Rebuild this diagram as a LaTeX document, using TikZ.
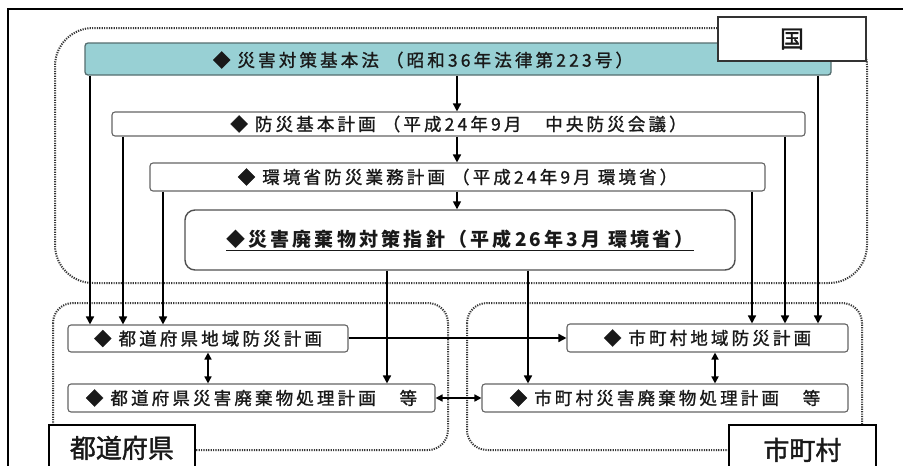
\documentclass[tikz,border=0pt]{standalone}
\usepackage{fontspec}
\setmainfont{Noto Sans CJK JP}
\newfontfamily\jp[LetterSpace=18,FakeBold=1.2]{Noto Sans CJK JP}
\newfontfamily\jpwide[LetterSpace=17]{Noto Sans CJK JP}
\newfontfamily\jplab[FakeBold=1.5]{Noto Sans CJK JP}
\usetikzlibrary{arrows.meta}
\definecolor{regcol}{RGB}{55,55,55}
\definecolor{boxcol}{RGB}{100,100,100}
\definecolor{txt}{RGB}{25,25,25}
\definecolor{tealfill}{RGB}{152,208,212}
\definecolor{tealedge}{RGB}{85,110,112}
\begin{document}
\begin{tikzpicture}[x=1pt,y=-1pt,
  region/.style={draw=regcol, line width=2pt, dash pattern=on 1.2pt off 1.2pt},
  plan/.style={draw=boxcol, line width=1.1pt, fill=white, rounded corners=3pt, inner sep=0pt, text=txt, font=\jp\fontsize{17.5}{19}\selectfont},
  arr/.style={line width=1.6pt, draw=black, -{Triangle[length=8pt,width=8pt]}},
  darr/.style={line width=1.6pt, draw=black, {Triangle[length=7pt,width=7pt]}-{Triangle[length=7pt,width=7pt]}},
  tag/.style={draw=black, line width=1.8pt, fill=white, inner sep=0pt, text=txt}
]
\useasboundingbox (0,0) rectangle (903,466);
\clip (0,0) rectangle (903,466);
\fill[white] (0,0) rectangle (903,466);
% outer frame
\draw[black, line width=2pt] (8,1000) -- (8,9) -- (1000,9);
% regions
\draw[region, rounded corners=38pt] (55,28) rectangle (867,283);
\draw[region, rounded corners=20pt] (53,303) rectangle (448,450);
\draw[region, rounded corners=20pt] (467,303) rectangle (862,450);
% plan boxes
\node[draw=tealedge, line width=1.3pt, fill=tealfill, rounded corners=3pt, inner sep=0pt,
      minimum width=746pt, minimum height=32pt] (law) at (458,59) {};
\node[text=txt, font=\jp\fontsize{17.5}{19}\selectfont, inner sep=0pt] (lawtxt) at (423,60)
  {◆ 災害対策基本法 （昭和36年法律第223号）};
\node[plan, minimum width=693pt, minimum height=24pt] (kihon) at (458.5,124)
  {◆ 防災基本計画 （平成24年9月　中央防災会議）};
\node[plan, minimum width=615pt, minimum height=28pt] (kankyo) at (457.5,177)
  {◆ 環境省防災業務計画 （平成24年9月 環境省）};
\node[draw=boxcol!80!black, line width=1.4pt, fill=white, rounded corners=10pt, inner sep=0pt,
      minimum width=550pt, minimum height=60pt, text=txt,
      font=\jpwide\bfseries\fontsize{19}{21}\selectfont] (shishin) at (460,240)
  {\underline{◆災害廃棄物対策指針（平成26年3月 環境省）}};
\node[plan, minimum width=280pt, minimum height=27pt] (pref1) at (208,338.5)
  {◆ 都道府県地域防災計画};
\node[plan, minimum width=367pt, minimum height=28pt] (pref2) at (251.5,398)
  {◆ 都道府県災害廃棄物処理計画　等};
\node[plan, minimum width=281pt, minimum height=28pt] (muni1) at (707.5,338)
  {◆ 市町村地域防災計画};
\node[plan, minimum width=366pt, minimum height=28pt] (muni2) at (665,398)
  {◆ 市町村災害廃棄物処理計画　等};
% column coordinates
\coordinate (xc) at (457,0);
\coordinate (xl1) at (90,0);
\coordinate (xl2) at (123,0);
\coordinate (xl3) at (163,0);
\coordinate (xr1) at (818,0);
\coordinate (xr2) at (785,0);
\coordinate (xr3) at (752,0);
\coordinate (xs1) at (387,0);
\coordinate (xs2) at (528,0);
\coordinate (xp) at (208,0);
\coordinate (xm) at (715,0);
\coordinate (yh) at (0,338);
% arrows
\draw[arr] (law.south -| xc) -- (kihon.north -| xc);
\draw[arr] (kihon.south -| xc) -- (kankyo.north -| xc);
\draw[arr] (kankyo.south -| xc) -- (shishin.north -| xc);
\draw[arr] (law.south -| xl1) -- (pref1.north -| xl1);
\draw[arr] (kihon.south -| xl2) -- (pref1.north -| xl2);
\draw[arr] (kankyo.south -| xl3) -- (pref1.north -| xl3);
\draw[arr] (law.south -| xr1) -- (muni1.north -| xr1);
\draw[arr] (kihon.south -| xr2) -- (muni1.north -| xr2);
\draw[arr] (kankyo.south -| xr3) -- (muni1.north -| xr3);
\draw[arr] (shishin.south -| xs1) -- (pref2.north -| xs1);
\draw[arr] (shishin.south -| xs2) -- (muni2.north -| xs2);
\draw[darr] (pref1.south -| xp) -- (pref2.north -| xp);
\draw[darr] (muni1.south -| xm) -- (muni2.north -| xm);
\draw[arr] (pref1.east |- yh) -- (muni1.west |- yh);
\draw[darr] (pref2.east) -- (muni2.west);
% tags
\node[tag, draw=black!80, minimum width=148pt, minimum height=44pt,
      font=\jplab\fontsize{24}{26}\selectfont] (kuni) at (792,39) {国};
\node[tag, minimum width=146pt, minimum height=46pt, anchor=north west,
      font=\jplab\fontsize{26}{28}\selectfont] (preftag) at (48,424) {都道府県};
\node[tag, minimum width=147pt, minimum height=50pt, anchor=north west,
      font=\jplab\fontsize{26}{28}\selectfont] (munitag) at (728,424) {市町村};
\end{tikzpicture}
\end{document}
